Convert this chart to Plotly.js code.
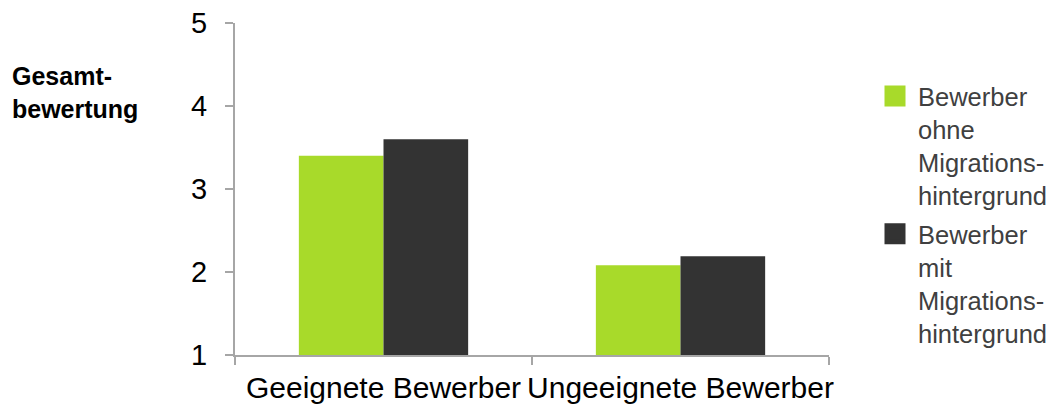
<!DOCTYPE html>
<html>
<head>
<meta charset="utf-8">
<script src="https://cdn.plot.ly/plotly-3.0.1.min.js"></script>
<style>html,body{margin:0;padding:0;background:#fff;}#chart{width:1058px;height:405px;}</style>
</head>
<body>
<div id="chart"></div>
<script>
const categories = ["Geeignete Bewerber", "Ungeeignete Bewerber"];
const seriesNames = ["Bewerber<br>ohne<br>Migrations-<br>hintergrund", "Bewerber<br>mit<br>Migrations-<br>hintergrund"];
const ohneMigration = [3.40, 2.08];
const mitMigration = [3.60, 2.19];
const yTickValues = [1, 2, 3, 4, 5];
const yTitle = "<b>Gesamt-<br>bewertung</b>";

const colors = ["#a8da2a", "#333333"];
const seriesValues = [ohneMigration, mitMigration];

const traces = [];
seriesValues.forEach((vals, i) => {
  traces.push({
    type: "bar", x: categories, y: vals, name: seriesNames[i],
    marker: {color: colors[i]}, showlegend: false, hoverinfo: "y"
  });
});
seriesValues.forEach((vals, i) => {
  traces.push({
    type: "scatter", mode: "markers", x: [categories[0]], y: [null], name: seriesNames[i],
    legendgroup: "g" + i,
    marker: {color: colors[i], symbol: "square", size: 16, line: {color: colors[i], width: 5}},
    showlegend: true, hoverinfo: "skip"
  });
});

const layout = {
  width: 1058, height: 405,
  margin: {l: 235, r: 229, t: 23, b: 50, autoexpand: false},
  paper_bgcolor: "#ffffff", plot_bgcolor: "#ffffff",
  font: {family: "Liberation Sans, Arial, sans-serif", color: "#000"},
  barmode: "group", bargap: 0.43, bargroupgap: 0,
  xaxis: {
    type: "category", showline: true, linecolor: "#a6a6a6", linewidth: 2,
    ticks: "outside", tickson: "boundaries", ticklen: 8, tickcolor: "#a6a6a6", tickwidth: 1.5,
    tickangle: 0, automargin: false,
    tickfont: {size: 30, color: "#000"}, showgrid: false, zeroline: false, ticklabelstandoff: 5
  },
  yaxis: {
    range: [1, 5], tickvals: yTickValues, showline: true, linecolor: "#a6a6a6", linewidth: 2,
    ticks: "outside", ticklen: 8, tickcolor: "#a6a6a6", tickwidth: 1.5, automargin: false,
    tickfont: {size: 29, color: "#000"}, showgrid: false, zeroline: false, ticklabelstandoff: 12
  },
  legend: {
    xref: "container", yref: "container",
    xanchor: "left", yanchor: "top",
    font: {size: 25.5, color: "#404040"}, valign: "top", bgcolor: "rgba(0,0,0,0)",
    traceorder: "grouped", tracegroupgap: 2, itemwidth: 36, maxheight: 400
  },
  annotations: [{
    xref: "paper", yref: "paper", x: -0.378, y: 0.79, xanchor: "left", yanchor: "middle",
    text: yTitle, showarrow: false, align: "left", font: {size: 25, color: "#000"}
  }]
};
layout.legend.x = 872 / 1058;
layout.legend.y = 1 - 73 / 405;

Plotly.newPlot("chart", traces, layout, {displayModeBar: false, staticPlot: true});
</script>
</body>
</html>
